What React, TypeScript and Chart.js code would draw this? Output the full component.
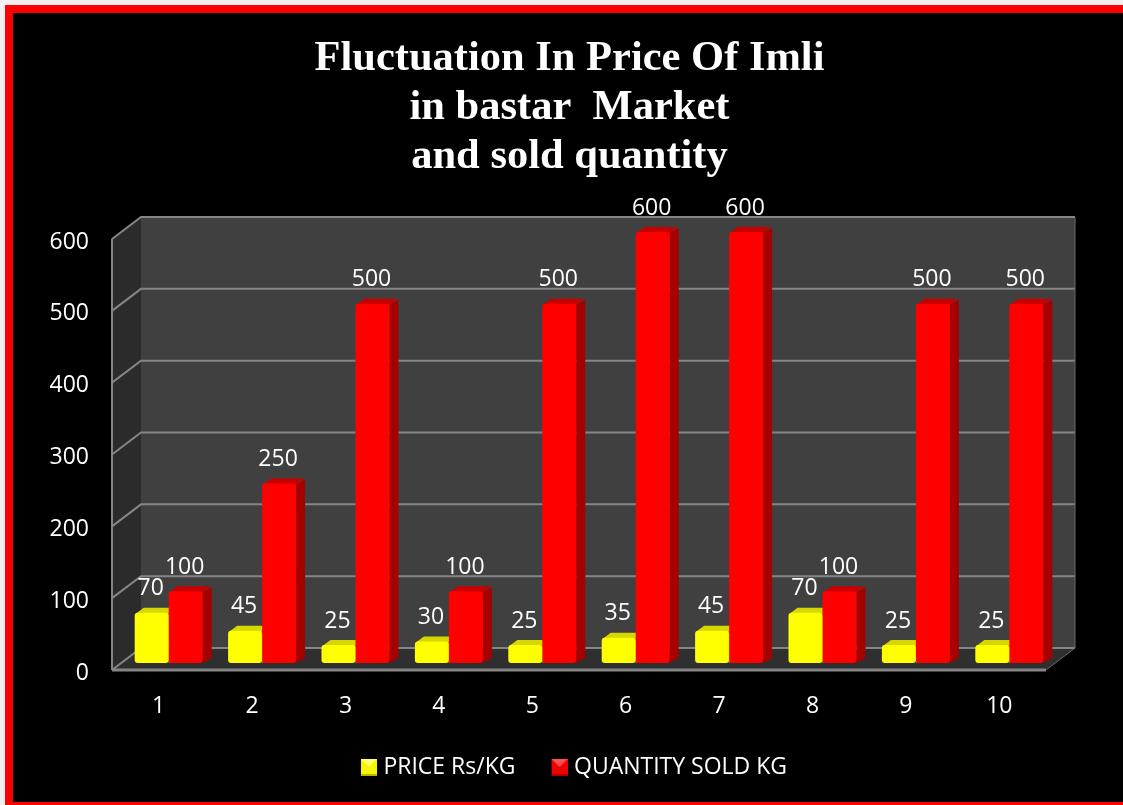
import React, { useEffect, useRef } from "react";
import { Chart, registerables } from "chart.js";

Chart.register(...registerables);

const categories = ["1", "2", "3", "4", "5", "6", "7", "8", "9", "10"];
const priceValues = [70, 45, 25, 30, 25, 35, 45, 70, 25, 25];
const quantityValues = [100, 250, 500, 100, 500, 600, 600, 100, 500, 500];
const titleLines = ["Fluctuation In Price Of Imli", "in bastar  Market", "and sold quantity"];

const LABEL_FONT = "'Open Sans', sans-serif";

// Depth of the box the bars stand in, and of the bars themselves.
const WALL_DX = 29;
const WALL_DY = -22;
const BAR_SHIFT_X = 10;
const BAR_SHIFT_Y = -7;
const BAR_DX = 9;
const BAR_DY = -5;

const faceColors = [
  { top: "#d6d600", side: "#b4b400" },
  { top: "#c80000", side: "#a60000" },
];

// Bevelled legend key; the clear strip on its left nudges it towards the label.
function makeSwatch(base: string, light: string, dark: string) {
  const c = document.createElement("canvas");
  c.width = 20;
  c.height = 17;
  const g = c.getContext("2d")!;
  g.fillStyle = base;
  g.fillRect(4, 0, 16, 17);
  g.fillStyle = light;
  g.beginPath();
  g.moveTo(4, 0);
  g.lineTo(20, 0);
  g.lineTo(12, 8);
  g.closePath();
  g.fill();
  g.fillStyle = dark;
  g.fillRect(4, 15, 16, 2);
  return c;
}

// Page frame: pale outer edge, red band, black field.
const framePlugin = {
  id: "frame",
  beforeDraw(chart: any) {
    const { ctx, width, height } = chart;
    ctx.save();
    ctx.fillStyle = "#f4f0f0";
    ctx.fillRect(0, 0, width, height);
    ctx.fillStyle = "#ff0000";
    ctx.fillRect(5, 5, width - 5, height - 5);
    ctx.fillStyle = "#000000";
    ctx.fillRect(13, 13, width - 13, height - 16);
    ctx.restore();
  },
};

// Back wall, side wall, floor and gridlines of the 3D box.
function drawWalls(chart: any) {
  const { ctx, chartArea: a, scales } = chart;
  const { left: l, right: r, top: t, bottom: b } = a;
  const poly = (pts: number[][], fill: string) => {
    ctx.beginPath();
    pts.forEach(([x, y], i) => (i ? ctx.lineTo(x, y) : ctx.moveTo(x, y)));
    ctx.closePath();
    ctx.fillStyle = fill;
    ctx.fill();
  };
  poly([[l + WALL_DX, t + WALL_DY], [r + WALL_DX, t + WALL_DY], [r + WALL_DX, b + WALL_DY], [l + WALL_DX, b + WALL_DY]], "#404040");
  poly([[l, t], [l + WALL_DX, t + WALL_DY], [l + WALL_DX, b + WALL_DY], [l, b]], "#2b2b2b");
  poly([[l, b], [l + WALL_DX, b + WALL_DY], [r + WALL_DX, b + WALL_DY], [r, b]], "#2f2f2f");

  ctx.strokeStyle = "#858585";
  ctx.lineWidth = 2;
  for (const tick of scales.y.ticks) {
    const y = scales.y.getPixelForValue(tick.value);
    ctx.beginPath();
    ctx.moveTo(l, y);
    ctx.lineTo(l + WALL_DX, y + WALL_DY);
    ctx.lineTo(r + WALL_DX, y + WALL_DY);
    ctx.stroke();
  }
  ctx.beginPath();
  ctx.moveTo(l, t);
  ctx.lineTo(l, b);
  ctx.stroke();
  ctx.lineWidth = 3;
  ctx.beginPath();
  ctx.moveTo(l, b);
  ctx.lineTo(r, b);
  ctx.stroke();
  ctx.lineWidth = 1;
  ctx.strokeStyle = "#6a6a6a";
  ctx.beginPath();
  ctx.moveTo(r, b);
  ctx.lineTo(r + WALL_DX, b + WALL_DY);
  ctx.lineTo(r + WALL_DX, t + WALL_DY);
  ctx.stroke();
}

// Top and side faces of every bar; the front faces are painted over them afterwards.
function drawBarDepth(chart: any) {
  const { ctx } = chart;
  faceColors.forEach((colors, index) => {
    for (const bar of chart.getDatasetMeta(index).data as any[]) {
      const x0 = bar.x - bar.width / 2;
      const x1 = bar.x + bar.width / 2;
      const y = bar.y;
      ctx.fillStyle = colors.top;
      ctx.beginPath();
      ctx.moveTo(x0 + 1, y + 1);
      ctx.lineTo(x0 + BAR_DX, y + BAR_DY);
      ctx.lineTo(x1 + BAR_DX - 1, y + BAR_DY);
      ctx.lineTo(x1, y + 1);
      ctx.closePath();
      ctx.fill();
      ctx.fillStyle = colors.side;
      ctx.beginPath();
      ctx.moveTo(x1, y + 1);
      ctx.lineTo(x1 + BAR_DX, y + BAR_DY + 1);
      ctx.lineTo(x1 + BAR_DX, bar.base + BAR_DY);
      ctx.lineTo(x1, bar.base);
      ctx.closePath();
      ctx.fill();
    }
  });
}

const depthPlugin = {
  id: "depth",
  afterLayout(chart: any) {
    // Places the legend row under the axis labels, slightly right of centre.
    const legend = chart.legend;
    legend.left += 5;
    legend.right += 5;
    legend.top -= 1;
    legend.bottom -= 1;
  },
  beforeDatasetsDraw(chart: any) {
    drawWalls(chart);
    chart.ctx.save();
    chart.ctx.translate(BAR_SHIFT_X, BAR_SHIFT_Y);
    drawBarDepth(chart);
  },
  afterDatasetsDraw(chart: any) {
    const { ctx } = chart;
    ctx.restore();
    ctx.save();
    ctx.fillStyle = "#ffffff";
    ctx.font = `23px ${LABEL_FONT}`;
    ctx.textAlign = "center";
    ctx.textBaseline = "middle";
    chart.data.datasets.forEach((ds: any, i: number) => {
      chart.getDatasetMeta(i).data.forEach((bar: any, j: number) => {
        ctx.fillText(String(ds.data[j]), bar.x + BAR_SHIFT_X - 1, bar.y + BAR_SHIFT_Y - 24);
      });
    });
    ctx.restore();
  },
};

export default function App() {
  const ref = useRef<HTMLCanvasElement>(null);

  useEffect(() => {
    document.body.style.margin = "0";
    const chart = new Chart(ref.current!, {
      type: "bar",
      data: {
        labels: categories,
        datasets: [
          {
            label: "PRICE Rs/KG",
            data: priceValues,
            backgroundColor: "#ffff00",
            borderRadius: 3,
            borderSkipped: false,
            clip: false,
            pointStyle: makeSwatch("#f6f600", "#ffff66", "#b8b800"),
          },
          {
            label: "QUANTITY SOLD KG",
            data: quantityValues,
            backgroundColor: "#ff0000",
            borderRadius: 3,
            borderSkipped: false,
            clip: false,
            pointStyle: makeSwatch("#ee0000", "#ff5050", "#b00000"),
          },
        ],
      },
      options: {
        responsive: false,
        animation: false,
        events: [],
        layout: {
          autoPadding: false,
          padding: { left: 16, right: 0, top: 0, bottom: 15 },
        },
        datasets: { bar: { barPercentage: 1, categoryPercentage: 0.728 } },
        scales: {
          x: {
            grid: { display: false },
            border: { display: false },
            ticks: { color: "#ffffff", font: { family: LABEL_FONT, size: 23 }, padding: 15 },
            afterFit(scale: any) {
              scale.height = 50;
            },
          },
          y: {
            min: 0,
            max: 600,
            grid: { display: false },
            border: { display: false },
            ticks: { color: "#ffffff", stepSize: 100, font: { family: LABEL_FONT, size: 23 }, padding: 15, labelOffset: 3 },
            afterFit(scale: any) {
              scale.width = 96;
            },
          },
          // Empty axis that reserves the margin right of the plot.
          margin: {
            type: "linear",
            position: "right",
            grid: { display: false },
            border: { display: false },
            ticks: { display: false },
            afterFit(scale: any) {
              scale.width = 77;
            },
          },
        },
        plugins: {
          tooltip: { enabled: false },
          title: {
            display: true,
            text: titleLines,
            color: "#ffffff",
            font: { family: "'Liberation Serif', serif", size: 42.5, weight: "bold", lineHeight: 1.153 },
            padding: { top: 35, bottom: 57 },
          },
          legend: {
            position: "bottom",
            labels: {
              color: "#ffffff",
              font: { family: LABEL_FONT, size: 23 },
              usePointStyle: true,
              pointStyleWidth: 10,
              padding: 37,
            },
          },
        },
      },
      plugins: [framePlugin, depthPlugin],
    } as any);
    return () => chart.destroy();
  }, []);

  return (
    <div style={{ position: "absolute", left: 0, top: 0 }}>
      <canvas ref={ref} width={1123} height={805} style={{ display: "block" }} />
    </div>
  );
}
